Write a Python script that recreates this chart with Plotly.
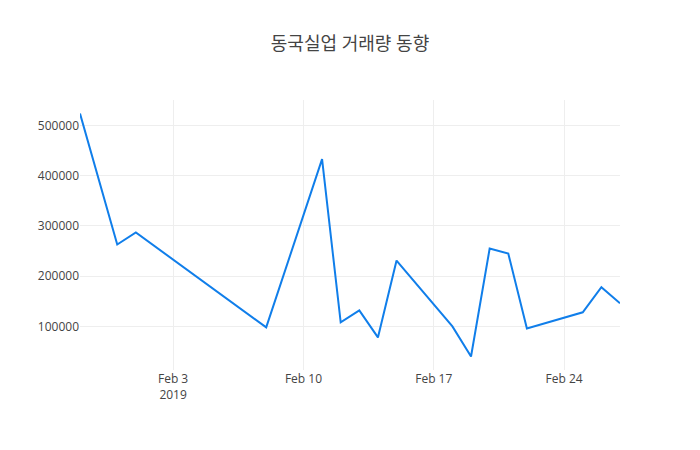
import plotly.graph_objects as go

# trading days and volumes
dates = [
    "2019-01-29", "2019-01-31", "2019-02-01", "2019-02-08",
    "2019-02-11", "2019-02-12", "2019-02-13", "2019-02-14", "2019-02-15",
    "2019-02-18", "2019-02-19", "2019-02-20", "2019-02-21", "2019-02-22",
    "2019-02-25", "2019-02-26", "2019-02-27",
]
volumes = [
    524000, 263000, 287000, 98000,
    433000, 108000, 132000, 78000, 231000,
    100000, 40000, 255000, 245000, 96000,
    128000, 178000, 146000,
]
title = "동국실업 거래량 동향"

fig = go.Figure()
fig.add_trace(go.Scatter(
    x=dates,
    y=volumes,
    mode="lines",
    line=dict(color="rgb(16,126,234)", width=2),
))

# page body adds an 8px offset, so margins/title are nudged to compensate
fig.update_layout(
    template="plotly_white",
    width=700,
    height=450,
    title=dict(text=title, x=0.4886, xanchor="center", y=0.92, yanchor="middle",
               font=dict(size=18, color="#444")),
    font=dict(family="Open Sans, Noto Sans CJK KR, sans-serif", color="#444", size=12),
    margin=dict(l=72, r=88, t=92, b=88),
    showlegend=False,
)
fig.update_xaxes(showgrid=True, gridcolor="#eee", zeroline=False, showline=False)
fig.update_yaxes(showgrid=True, gridcolor="#eee", zeroline=False, showline=False,
                 tickformat="d")

fig.write_html("out.html")
